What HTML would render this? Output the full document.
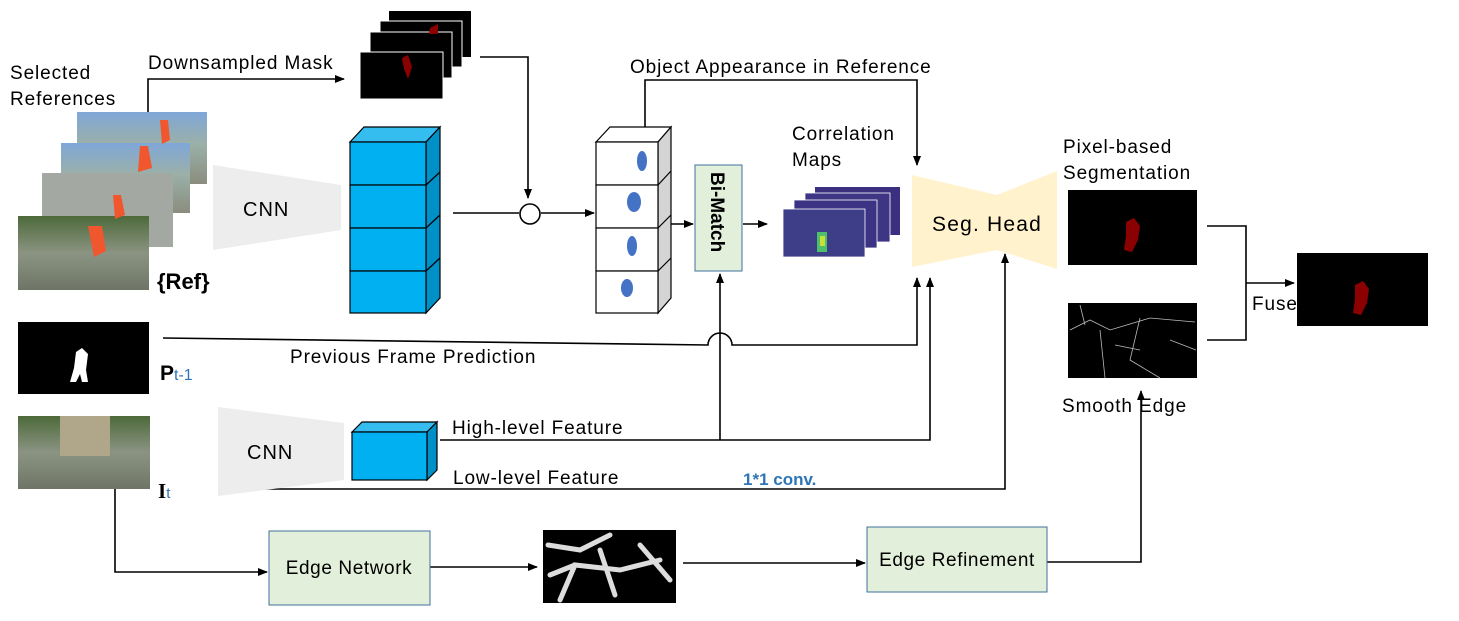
<!DOCTYPE html>
<html><head><meta charset="utf-8"><style>
html,body{margin:0;padding:0;background:#fff;}
svg{display:block;font-family:"Liberation Sans","DejaVu Sans",sans-serif;}
</style></head><body>
<svg width="1459" height="621" viewBox="0 0 1459 621" xmlns="http://www.w3.org/2000/svg">
<defs>
<marker id="a" markerWidth="10" markerHeight="8" refX="9" refY="4" orient="auto" markerUnits="userSpaceOnUse"><path d="M0,0 L10,4 L0,8 z" fill="#000"/></marker>
<linearGradient id="sky" x1="0" y1="0" x2="0" y2="1"><stop offset="0" stop-color="#7fa7d8"/><stop offset="0.45" stop-color="#9bb0a8"/><stop offset="1" stop-color="#8a8d7e"/></linearGradient>
<linearGradient id="sky2" x1="0" y1="0" x2="0" y2="1"><stop offset="0" stop-color="#4d6a3a"/><stop offset="0.5" stop-color="#8b9483"/><stop offset="1" stop-color="#6f7566"/></linearGradient>
</defs>
<g stroke="#000" stroke-width="1.6" fill="none">
<polyline points="148,112 148,79 344,79" marker-end="url(#a)"/>
<polyline points="480,57 528,57 528,198" marker-end="url(#a)"/>
<line x1="453" y1="213" x2="519" y2="213"/>
<line x1="541" y1="213" x2="594" y2="213" marker-end="url(#a)"/>
<polyline points="645,127 645,80 917,80 917,165" marker-end="url(#a)"/>
<line x1="671" y1="224" x2="693" y2="224" marker-end="url(#a)"/>
<line x1="743" y1="224" x2="767" y2="224" marker-end="url(#a)"/>
<path d="M163,338 L708,345 A12,12 0 0 1 732,345 L917,345 L917,278" marker-end="url(#a)"/>
<line x1="720" y1="440" x2="720" y2="274" marker-end="url(#a)"/>
<polyline points="440,440 930,440 930,278" marker-end="url(#a)"/>
<polyline points="234,489 1005,489 1005,254" marker-end="url(#a)"/>
<polyline points="115,489 115,572 267,572" marker-end="url(#a)"/>
<line x1="430" y1="567" x2="537" y2="567" marker-end="url(#a)"/>
<line x1="683" y1="563" x2="865" y2="563" marker-end="url(#a)"/>
<polyline points="1047,562 1141,562 1141,391" marker-end="url(#a)"/>
<polyline points="1207,226 1246,226 1246,340 1207,340"/>
<line x1="1246" y1="283" x2="1294" y2="283" marker-end="url(#a)"/>
</g>
<circle cx="530" cy="214" r="10" fill="#fff" stroke="#000" stroke-width="1.6"/>

<g font-size="19" fill="#000" letter-spacing="0.9">
<text x="10" y="79">Selected</text>
<text x="10" y="105">References</text>
<text x="148" y="69">Downsampled Mask</text>
<text x="630" y="73">Object Appearance in Reference</text>
<text x="792" y="140">Correlation</text>
<text x="792" y="166">Maps</text>
<text x="1063" y="153">Pixel-based</text>
<text x="1063" y="179">Segmentation</text>
<text x="1062" y="412">Smooth Edge</text>
<text x="1252" y="310">Fuse</text>
<text x="290" y="363">Previous Frame Prediction</text>
<text x="452" y="434">High-level Feature</text>
<text x="453" y="484">Low-level Feature</text>
</g>
<text x="743" y="485" font-size="17" font-weight="bold" fill="#2e75b6">1*1 conv.</text>
<text x="157" y="289" font-size="22" font-weight="bold" fill="#000">{Ref}</text>
<text x="160" y="380" font-size="21" font-weight="bold" fill="#000">P<tspan font-size="16" font-weight="normal" fill="#2e75b6">t-1</tspan></text>
<text x="158" y="498" font-size="21" font-weight="bold" fill="#000" font-family="Liberation Serif">I<tspan font-size="15" font-weight="normal" fill="#2e75b6" font-family="Liberation Sans">t</tspan></text>

<rect x="77" y="112" width="130" height="72" fill="url(#sky)"/>
<rect x="61" y="143" width="129" height="70" fill="url(#sky)"/>
<rect x="42" y="173" width="131" height="74" fill="#a4a8a3"/>
<rect x="18" y="216" width="131" height="74" fill="url(#sky2)"/>
<path d="M160,120 l8,0 l2,20 l-8,4z" fill="#f0572f"/>
<path d="M140,146 l8,0 l4,22 l-14,4z" fill="#f0572f"/>
<path d="M113,195 l8,0 l4,20 l-10,4z" fill="#f0572f"/>
<path d="M88,226 l14,0 l4,25 l-12,6z" fill="#f0572f"/>

<polygon points="213,165 341,185 341,230 213,250" fill="#ededed"/>
<text x="243" y="216" font-size="20" fill="#000" letter-spacing="1">CNN</text>
<polygon points="218,407 344,423 344,480 218,496" fill="#ededed"/>
<text x="247" y="459" font-size="20" fill="#000" letter-spacing="1">CNN</text>

<g stroke="#000" stroke-width="1.2">
<polygon points="350,142 364,127 440,127 426,142" fill="#35bdf0"/>
<polygon points="426,142 440,127 440,298 426,313" fill="#0090c8"/>
<rect x="350" y="142" width="76" height="43" fill="#00b0f0"/>
<rect x="350" y="185" width="76" height="43" fill="#00b0f0"/>
<rect x="350" y="228" width="76" height="43" fill="#00b0f0"/>
<rect x="350" y="271" width="76" height="42" fill="#00b0f0"/>
<line x1="426" y1="185" x2="440" y2="172"/><line x1="426" y1="228" x2="440" y2="215"/><line x1="426" y1="271" x2="440" y2="258"/>
<polygon points="352,432 362,422 437,422 427,432" fill="#35bdf0"/>
<polygon points="427,432 437,422 437,470 427,480" fill="#0090c8"/>
<rect x="352" y="432" width="75" height="48" fill="#00b0f0"/>
<polygon points="596,142 610,127 671,127 658,142" fill="#fff"/>
<polygon points="658,142 671,127 671,298 658,313" fill="#d4d4d4"/>
<rect x="596" y="142" width="62" height="43" fill="#fff"/>
<rect x="596" y="185" width="62" height="43" fill="#fff"/>
<rect x="596" y="228" width="62" height="43" fill="#fff"/>
<rect x="596" y="271" width="62" height="42" fill="#fff"/>
<line x1="658" y1="185" x2="671" y2="171"/><line x1="658" y1="228" x2="671" y2="215"/><line x1="658" y1="271" x2="671" y2="258"/>
</g>
<g fill="#4472c4">
<ellipse cx="642" cy="161" rx="5" ry="10"/><ellipse cx="634" cy="202" rx="7" ry="10"/><ellipse cx="632" cy="246" rx="5" ry="10"/><ellipse cx="627" cy="288" rx="6" ry="9"/>
</g>

<rect x="389" y="11" width="82" height="46" fill="#000"/>
<rect x="380" y="21" width="82" height="46" fill="#000" stroke="#fff"/>
<rect x="370" y="32" width="82" height="46" fill="#000" stroke="#fff"/>
<rect x="360" y="52" width="83" height="47" fill="#000" stroke="#fff"/>
<path d="M402,58 l6,-3 l4,12 l-4,12 l-4,-10z" fill="#8b0000"/>
<path d="M430,28 l8,-4 l0,10 l-9,0z" fill="#8b0000"/>

<rect x="695" y="165" width="47" height="106" fill="#e2efda" stroke="#41719c" stroke-width="1"/>
<text transform="translate(711,172) rotate(90)" font-size="19" font-weight="bold" fill="#000">Bi-Match</text>

<rect x="815" y="187" width="85" height="48" fill="#3b2f80"/>
<rect x="805" y="193" width="85" height="49" fill="#3f3585" stroke="#fff" stroke-width="0.8"/>
<rect x="794" y="200" width="83" height="48" fill="#3d3384" stroke="#fff" stroke-width="0.8"/>
<rect x="783" y="209" width="82" height="48" fill="#3e3d88" stroke="#fff" stroke-width="0.8"/>
<rect x="817" y="232" width="10" height="20" fill="#4cc06a"/>
<rect x="820" y="236" width="5" height="10" fill="#c8e03a"/>

<polygon points="912,175 997,195 1057,171 1057,269 997,250 912,267" fill="#fff2cc"/>
<text x="932" y="231" font-size="21" fill="#000" letter-spacing="1.2">Seg.  Head</text>

<rect x="1068" y="190" width="129" height="75" fill="#000"/>
<path d="M1126,222 l8,-4 l6,8 l-2,14 l-6,12 l-8,-2 l2,-14z" fill="#8b0000"/>
<rect x="1068" y="303" width="129" height="75" fill="#000"/>
<g stroke="#bbb" stroke-width="0.8" fill="none">
<path d="M1070,330 L1090,320 L1110,330 L1150,318 L1195,322"/>
<path d="M1100,330 L1105,378 M1140,318 L1130,360 L1160,378 M1080,305 L1085,325 M1170,340 L1196,350 M1115,345 L1140,350"/>
</g>
<rect x="1297" y="253" width="131" height="73" fill="#000"/>
<path d="M1355,285 l8,-4 l6,8 l-2,14 l-6,12 l-8,-2 l2,-14z" fill="#8b0000"/>

<rect x="18" y="322" width="131" height="72" fill="#000"/>
<path d="M76,352 l6,-4 l6,6 l-2,16 l2,12 l-6,0 l-2,-8 l-4,8 l-6,0 l4,-14z" fill="#fff"/>

<rect x="18" y="416" width="132" height="73" fill="url(#sky2)"/>
<rect x="60" y="416" width="50" height="40" fill="#b0a68a"/>

<rect x="269" y="531" width="161" height="74" fill="#e2efda" stroke="#41719c" stroke-width="1"/>
<text x="349" y="574" font-size="19" text-anchor="middle" fill="#000" letter-spacing="0.6">Edge Network</text>
<rect x="543" y="530" width="133" height="73" fill="#000"/>
<g stroke="#ddd" stroke-width="5" fill="none" stroke-linecap="round">
<path d="M548,545 L580,550 L610,535 M560,600 L575,565 L620,570 L660,560 M600,550 L615,595 M640,545 L670,580 M550,575 L575,565"/>
</g>
<rect x="867" y="527" width="180" height="65" fill="#e2efda" stroke="#41719c" stroke-width="1"/>
<text x="957" y="566" font-size="19" text-anchor="middle" fill="#000" letter-spacing="0.6">Edge Refinement</text>
</svg>
</body></html>
